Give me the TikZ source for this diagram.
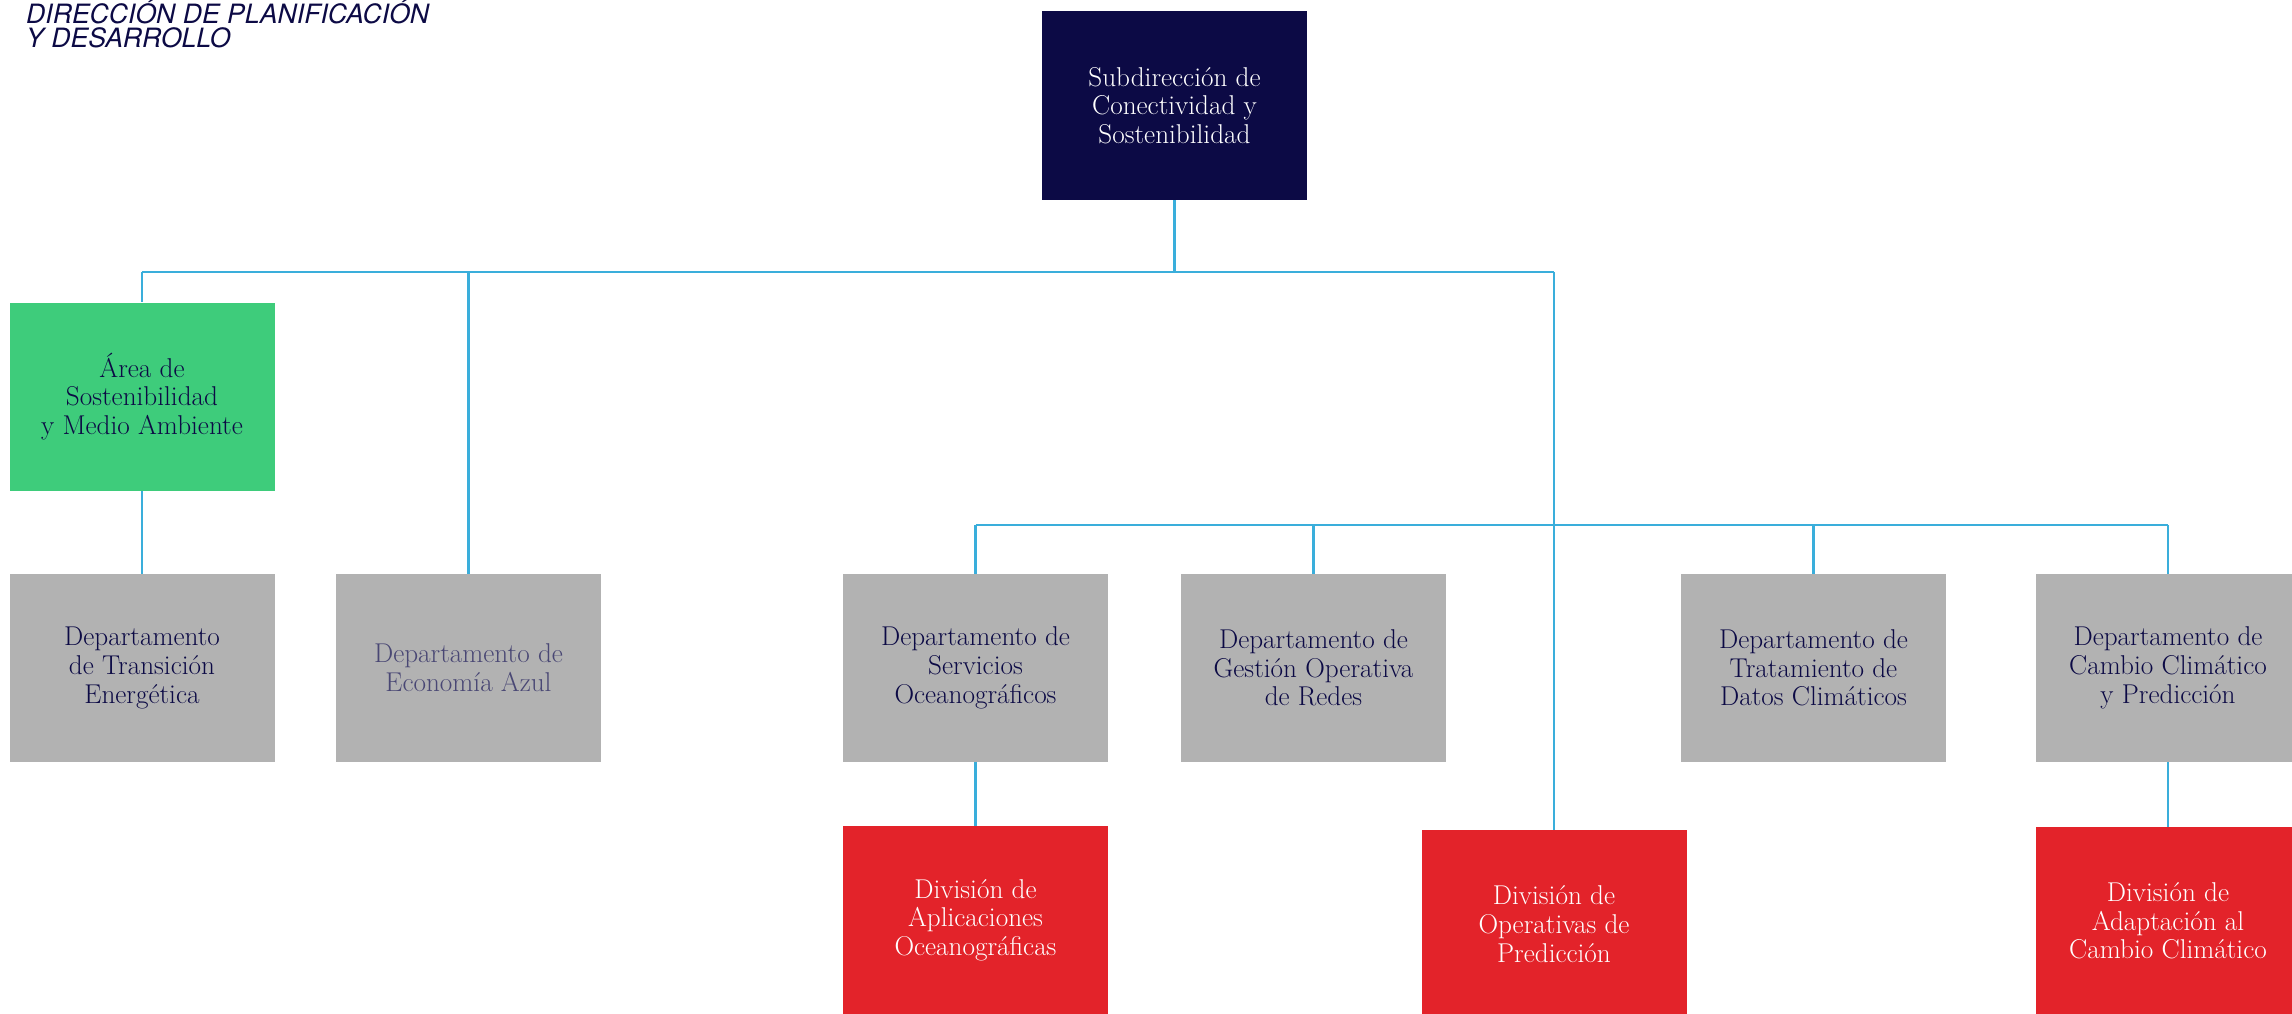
\documentclass[tikz,border=0pt]{standalone}
\usepackage{fontspec}
\newfontfamily\titlefont{TeX Gyre Heros}
\definecolor{navy}{HTML}{0C0A45}
\definecolor{grn}{HTML}{3ECC7B}
\definecolor{gry}{HTML}{B2B2B2}
\definecolor{rd}{HTML}{E3232A}
\definecolor{lineblue}{HTML}{3AAEDB}
\tikzset{
  unit/.style={rectangle, inner sep=0pt, minimum width=265pt, minimum height=188pt,
    align=center, font=\fontsize{27.2}{28.7}\selectfont},
  topbox/.style={unit, fill=navy, text=white, minimum height=189pt},
  greenbox/.style={unit, fill=grn, text=navy},
  graybox/.style={unit, fill=gry, text=navy},
  redbox/.style={unit, fill=rd, text=white},
  conn/.style={draw=lineblue, line width=2.6pt}
}
\begin{document}
\begin{tikzpicture}[x=1pt, y=-1pt]
\useasboundingbox (0,0) rectangle (2292,1013);
\clip (0,0) rectangle (2292,1013);
\fill[white] (0,0) rectangle (2292,1013);

\node[anchor=base west, inner sep=0pt, text=navy] (title) at (26,23)
  {\vtop{\baselineskip=24pt\titlefont\itshape\fontsize{26.6}{24}\selectfont
   \hbox{DIRECCIÓN DE PLANIFICACIÓN}\hbox{Y DESARROLLO}}};

\node[topbox] (top) at (1174.5,105.5) {Subdirección de\\Conectividad y\\Sostenibilidad};
\node[greenbox] (green) at (142,396.5) {Área de\\Sostenibilidad\\y Medio Ambiente};

\node[graybox] (trans) at (142,668) {Departamento\\de Transición\\Energética};
\node[graybox, text=navy!75] (eco) at (468.5,668) {Departamento de\\Economía Azul};
\node[graybox] (serv) at (975.5,668) {Departamento de\\Servicios\\Oceanográficos};
\node[graybox] (gest) at (1313.5,668) {Departamento de\\Gestión Operativa\\de Redes};
\node[graybox] (trat) at (1813.5,668) {Departamento de\\Tratamiento de\\Datos Climáticos};
\node[graybox] (camb) at (2168,668) {Departamento de\\Cambio Climático\\y Predicción};

\node[redbox] (apl) at (975.5,920) {División de\\Aplicaciones\\Oceanográficas};
\node[redbox] (pred) at (1554,924) {División de\\Operativas de\\Predicción};
\node[redbox] (adap) at (2168,921) {División de\\Adaptación al\\Cambio Climático};

\coordinate (b1) at (0,272);
\coordinate (b2) at (0,525);

\draw[conn] (top.south) -- (top.south |- b1);
\draw[conn] (green.north |- b1) -- (pred.north |- b1);
\draw[conn] (green.north |- b1) -- (green.north);
\draw[conn] (eco.north |- b1) -- (eco.north);
\draw[conn] (pred.north |- b1) -- (pred.north);

\draw[conn] (serv.north |- b2) -- (camb.north |- b2);
\draw[conn] (serv.north |- b2) -- (serv.north);
\draw[conn] (gest.north |- b2) -- (gest.north);
\draw[conn] (trat.north |- b2) -- (trat.north);
\draw[conn] (camb.north |- b2) -- (camb.north);

\draw[conn] (green.south) -- (trans.north);
\draw[conn] (serv.south) -- (apl.north);
\draw[conn] (camb.south) -- (adap.north);
\end{tikzpicture}
\end{document}
